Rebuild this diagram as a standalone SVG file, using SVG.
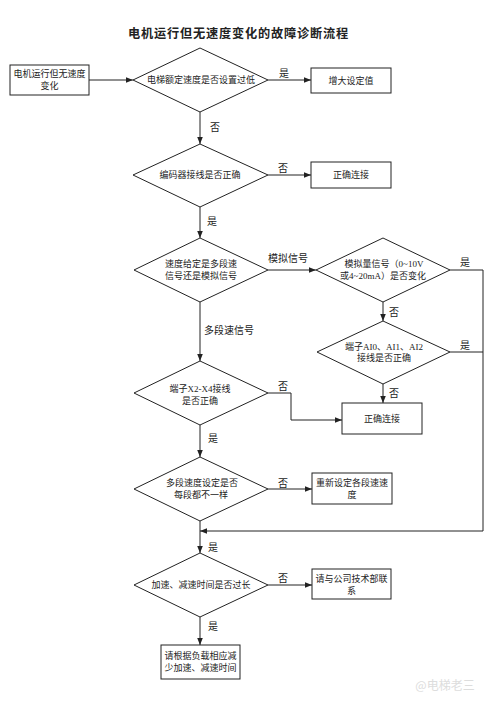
<svg xmlns="http://www.w3.org/2000/svg" width="500" height="702" viewBox="0 0 500 702">
<style>
text{font-family:"Liberation Serif","Noto Sans CJK SC",serif;fill:#222;text-anchor:middle}
.t{font-size:9px}
.l{font-size:10px}
.title{font-size:12.2px;font-weight:bold;letter-spacing:0.8px}
.s{fill:#fff;stroke:#222;stroke-width:1}
.c{fill:none;stroke:#222;stroke-width:1}
</style>
<defs>
<marker id="a" viewBox="0 0 10 10" refX="10" refY="5" markerWidth="7" markerHeight="7" orient="auto" markerUnits="userSpaceOnUse">
<path d="M0,1L10,5L0,9z" fill="#222"/>
</marker>
</defs>
<rect width="500" height="702" fill="#fff"/>
<text class="title" x="238.5" y="38">电机运行但无速度变化的故障诊断流程</text>

<g id="connectors">
<path class="c" d="M89,80H133" marker-end="url(#a)"/>
<path class="c" d="M268,80H311" marker-end="url(#a)"/>
<path class="c" d="M200,112V144" marker-end="url(#a)"/>
<path class="c" d="M268,175H311" marker-end="url(#a)"/>
<path class="c" d="M200,207V238" marker-end="url(#a)"/>
<path class="c" d="M268,270H316" marker-end="url(#a)"/>
<path class="c" d="M450,270H483V531H200" marker-end="url(#a)"/>
<path class="c" d="M450,352H483"/>
<path class="c" d="M383,302V321" marker-end="url(#a)"/>
<path class="c" d="M383,384V403" marker-end="url(#a)"/>
<path class="c" d="M200,302V361" marker-end="url(#a)"/>
<path class="c" d="M268,393H291V420H342" marker-end="url(#a)"/>
<path class="c" d="M200,425V457" marker-end="url(#a)"/>
<path class="c" d="M268,489H312" marker-end="url(#a)"/>
<path class="c" d="M200,521V553" marker-end="url(#a)"/>
<path class="c" d="M268,585H312" marker-end="url(#a)"/>
<path class="c" d="M200,617V645" marker-end="url(#a)"/>
<text class="l" x="284" y="77">是</text>
<text class="l" x="215" y="131">否</text>
<text class="l" x="283" y="172">否</text>
<text class="l" x="212" y="225">是</text>
<text class="l" x="288" y="262">模拟信号</text>
<text class="l" x="465" y="266">是</text>
<text class="l" x="394" y="316">否</text>
<text class="l" x="465" y="349">是</text>
<text class="l" x="229" y="334">多段速信号</text>
<text class="l" x="394" y="397">否</text>
<text class="l" x="283" y="390">否</text>
<text class="l" x="213" y="442">是</text>
<text class="l" x="283" y="487">否</text>
<text class="l" x="213" y="551">是</text>
<text class="l" x="283" y="582">否</text>
<text class="l" x="213" y="630">是</text>
</g>

<g id="start">
<rect class="s" x="10" y="65" width="79" height="30"/>
<text class="t" x="49.5" y="77">电机运行但无速度</text>
<text class="t" x="49.5" y="89">变化</text>
</g>
<g id="d1">
<polygon class="s" points="133,80 200,48 268,80 200,112"/>
<text class="t" x="201" y="83">电梯额定速度是否设置过低</text>
</g>
<g id="b1">
<rect class="s" x="311" y="68" width="80" height="25"/>
<text class="t" x="351" y="84">增大设定值</text>
</g>
<g id="d2">
<polygon class="s" points="133,175 200,144 268,175 200,207"/>
<text class="t" x="200" y="178">编码器接线是否正确</text>
</g>
<g id="b2">
<rect class="s" x="311" y="162" width="80" height="26"/>
<text class="t" x="351" y="178">正确连接</text>
</g>
<g id="d3">
<polygon class="s" points="134,270 200,238 268,270 200,302"/>
<text class="t" x="201" y="267">速度给定是多段速</text>
<text class="t" x="201" y="279">信号还是模拟信号</text>
</g>
<g id="d4">
<polygon class="s" points="316,270 383,238 450,270 383,302"/>
<text class="t" x="384" y="267">模拟量信号（0~10V</text>
<text class="t" x="383" y="279">或4~20mA）是否变化</text>
</g>
<g id="d5">
<polygon class="s" points="317,352 383,321 450,352 383,384"/>
<text class="t" x="384" y="350">端子AI0、AI1、AI2</text>
<text class="t" x="384" y="361">接线是否正确</text>
</g>
<g id="b3">
<rect class="s" x="342" y="403" width="80" height="31"/>
<text class="t" x="382" y="422">正确连接</text>
</g>
<g id="d6">
<polygon class="s" points="134,393 200,361 268,393 200,425"/>
<text class="t" x="200" y="392">端子X2-X4接线</text>
<text class="t" x="200" y="404">是否正确</text>
</g>
<g id="d7">
<polygon class="s" points="134,489 200,457 268,489 200,521"/>
<text class="t" x="202" y="486">多段速度设定是否</text>
<text class="t" x="201" y="498">每段都不一样</text>
</g>
<g id="b4">
<rect class="s" x="312" y="473" width="80" height="31"/>
<text class="t" x="352" y="486">重新设定各段速速</text>
<text class="t" x="352" y="498">度</text>
</g>
<g id="d8">
<polygon class="s" points="134,585 200,553 268,585 200,617"/>
<text class="t" x="201" y="588">加速、减速时间是否过长</text>
</g>
<g id="b5">
<rect class="s" x="312" y="569" width="79" height="30"/>
<text class="t" x="351.5" y="582">请与公司技术部联</text>
<text class="t" x="351.5" y="594">系</text>
</g>
<g id="b6">
<rect class="s" x="161" y="645" width="79" height="34"/>
<text class="t" x="200.5" y="659">请根据负载相应减</text>
<text class="t" x="200.5" y="671">少加速、减速时间</text>
</g>
<text x="445" y="690" style="font-size:12px;fill:#ddd;font-family:'Noto Sans CJK SC',sans-serif">@电梯老三</text>
</svg>
